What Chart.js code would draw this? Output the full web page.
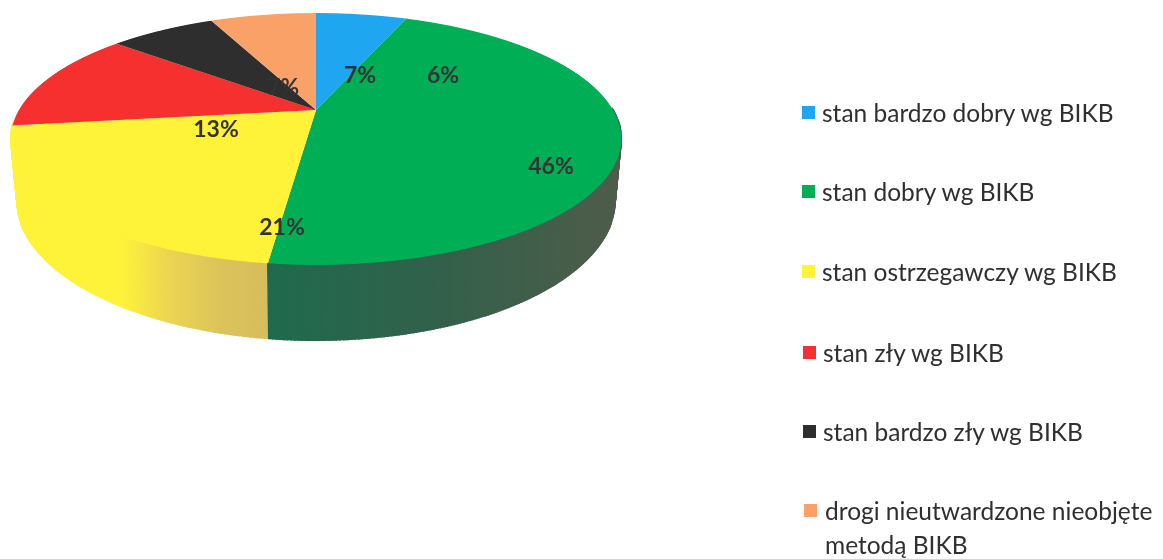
<!DOCTYPE html>
<html lang="pl">

<head>
    <meta charset="UTF-8" />
    <title>Stan dróg wg BIKB</title>
    <script src="https://cdn.jsdelivr.net/npm/chart.js"></script>
    <style>
        body { margin: 0; background: #fff; }
        #wrap { position: relative; width: 1163px; height: 559px; overflow: hidden; }
        canvas { position: absolute; left: 0; top: 0; }
        .item { position: absolute; font: 24.5px/34px Lato, sans-serif; color: #2f2f2f; white-space: nowrap; }
        .box { position: absolute; width: 13px; height: 13px; }
    </style>
</head>

<body>
    <div id="wrap">
        <canvas id="wykres" width="1163" height="559"></canvas>
        <div id="legenda"></div>
    </div>

    <script>
        const categories = [
            'stan bardzo dobry wg BIKB',
            'stan dobry wg BIKB',
            'stan ostrzegawczy wg BIKB',
            'stan zły wg BIKB',
            'stan bardzo zły wg BIKB',
            'drogi nieutwardzone nieobjęte\nmetodą BIKB'
        ];
        const values = [6, 46, 21, 13, 7, 7];
        const colors = ['#1fa6f0', '#00ae55', '#fff33a', '#f5302e', '#2e2e2e', '#f9a166'];

        // ręczne położenie etykiet, jak na oryginale (są poprzesuwane względem wycinków)
        const labelX = [443, 551, 282, 216, 283, 360];
        const labelY = [76, 167, 228, 130, 88, 76];
        const legendTop = [96, 175, 255, 336, 415, 494];
        const legendBoxX = [802, 802, 802, 803, 803, 804];
        const legendTextX = [822, 822, 822, 823, 823, 825];

        // rzut perspektywiczny tarczy
        const cx = 316, cy = 110;
        const persp = -0.23, scaleX = 297, scaleY = 119.3, depth = 58, taper = 0.02;

        function rzut(angle) {
            const X = Math.cos(angle), Y = Math.sin(angle), den = 1 + persp * Y;
            return { x: cx + scaleX * X / den, y: cy + scaleY * Y / den, d: depth / den, front: Y > 0 };
        }

        function sciana(ctx, arc, fill) {
            const n = Math.ceil((arc.endAngle - arc.startAngle) / 0.01);
            ctx.fillStyle = fill;
            ctx.strokeStyle = fill;
            ctx.lineWidth = 1.5;
            let p = rzut(arc.startAngle);
            for (let i = 1; i <= n; i++) {
                const q = rzut(arc.startAngle + (arc.endAngle - arc.startAngle) * i / n);
                // tylko przód, dół ściany zbiega się lekko do środka
                if (q.front) {
                    ctx.beginPath();
                    ctx.moveTo(p.x, p.y);
                    ctx.lineTo(q.x, q.y);
                    ctx.lineTo(cx + (q.x - cx) * (1 - taper), q.y + q.d);
                    ctx.lineTo(cx + (p.x - cx) * (1 - taper), p.y + p.d);
                    ctx.closePath();
                    ctx.fill();
                    ctx.stroke();
                }
                p = q;
            }
        }

        const pie3d = {
            id: 'pie3d',
            beforeDatasetsDraw(chart) {
                const ctx = chart.ctx;
                const arcs = chart.getDatasetMeta(0).data;

                // ściana boczna
                const gYellow = ctx.createLinearGradient(13, 0, 270, 0);
                gYellow.addColorStop(0, '#fff33a');
                gYellow.addColorStop(0.42, '#fff33a');
                gYellow.addColorStop(0.6, '#ecd650');
                gYellow.addColorStop(0.8, '#dcc45a');
                gYellow.addColorStop(1, '#d6bc5c');
                const gGreen = ctx.createLinearGradient(270, 0, 620, 0);
                gGreen.addColorStop(0, '#1f6a4e');
                gGreen.addColorStop(0.5, '#33604a');
                gGreen.addColorStop(1, '#4f5c4a');
                sciana(ctx, arcs[2], gYellow);
                sciana(ctx, arcs[1], gGreen);

                // górna tarcza rysowana wierszami, każdy z własną skalą
                const R = arcs[0].outerRadius, ax = arcs[0].x, ay = arcs[0].y;
                const toY = v => v / (scaleY - persp * v);
                for (let row = 10; row < 270; row++) {
                    const y0 = toY(row - cy), y1 = toY(row + 1 - cy);
                    if (y0 < -1.02 || y0 > 1.02) continue;
                    const k = scaleX / (1 + persp * (y0 + y1) / 2) / R;
                    const m = 1 / ((y1 - y0) * R);
                    ctx.save();
                    ctx.beginPath();
                    ctx.rect(0, row, 1163, 1);
                    ctx.clip();
                    ctx.transform(k, 0, 0, m, cx - k * ax, row - m * (ay + y0 * R));
                    arcs.forEach(a => a.draw(ctx));
                    ctx.restore();
                }

                // etykiety
                ctx.font = 'bold 23px Lato, sans-serif';
                ctx.fillStyle = '#333';
                ctx.textAlign = 'center';
                ctx.textBaseline = 'middle';
                values.forEach((v, i) => ctx.fillText(v + '%', labelX[i], labelY[i]));
                return false;
            }
        };

        new Chart(document.getElementById('wykres'), {
            type: 'pie',
            data: {
                labels: categories,
                datasets: [{ data: values, backgroundColor: colors, borderWidth: 0 }]
            },
            options: {
                responsive: false,
                animation: false,
                plugins: { legend: { display: false }, tooltip: { enabled: false } }
            },
            plugins: [pie3d]
        });

        const legenda = document.getElementById('legenda');
        categories.forEach((c, i) => {
            const box = document.createElement('div');
            box.className = 'box';
            box.style.left = legendBoxX[i] + 'px';
            box.style.top = (legendTop[i] + 10) + 'px';
            box.style.background = colors[i];
            legenda.appendChild(box);
            const item = document.createElement('div');
            item.className = 'item';
            item.style.left = legendTextX[i] + 'px';
            item.style.top = legendTop[i] + 'px';
            item.innerHTML = c.replace('\n', '<br>');
            legenda.appendChild(item);
        });
    </script>
</body>

</html>
